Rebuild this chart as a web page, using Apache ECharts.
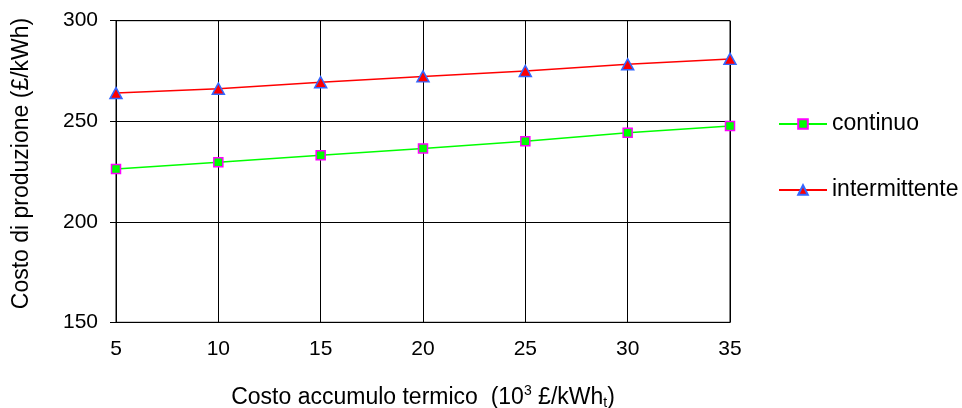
<!DOCTYPE html>
<html>
<head>
<meta charset="utf-8">
<script src="https://cdn.jsdelivr.net/npm/echarts@6/dist/echarts.min.js"></script>
<style>
  html, body { margin: 0; padding: 0; background: #fff; }
  #chart { width: 962px; height: 408px; }
</style>
</head>
<body>
<div id="chart"></div>
<script>
// Costo accumulo termico (10^3 £/kWh_t)
const storageCost = [5, 10, 15, 20, 25, 30, 35];
// Costo di produzione (£/kWh)
const continuo = [226.3, 229.6, 233.1, 236.5, 240.0, 244.3, 247.6];
const intermittente = [264.0, 266.2, 269.4, 272.3, 275.0, 278.3, 281.0];
const seriesNames = ['continuo', 'intermittente'];

const FONT = '"Liberation Sans", Arial, sans-serif';

function pairs(xs, ys) {
  return xs.map((x, i) => [x, ys[i]]);
}

const chart = echarts.init(document.getElementById('chart'), null, { renderer: 'canvas' });

chart.setOption({
  animation: false,
  backgroundColor: '#ffffff',
  textStyle: { fontFamily: FONT, color: '#000' },
  grid: {
    left: 116, right: 232, top: 20.7, bottom: 85.7,
    containLabel: false,
    outerBoundsMode: 'none',
    show: true, borderColor: '#000', borderWidth: 1
  },
  legend: {
    orient: 'vertical',
    left: 778,
    top: 112.5,
    padding: 0,
    itemWidth: 48,
    itemHeight: 12,
    itemGap: 43,
    data: seriesNames,
    textStyle: { fontFamily: FONT, fontSize: 23, color: '#000', padding: [0, 0, 0, 0] }
  },
  xAxis: {
    type: 'value',
    min: 5, max: 35, interval: 5,
    axisLine: { show: true, lineStyle: { color: '#000', width: 1 } },
    axisTick: { show: false },
    splitLine: { show: true, lineStyle: { color: '#000', width: 1 } },
    axisLabel: { fontFamily: FONT, fontSize: 21, color: '#000', margin: 16 },
    name: '{a|Costo accumulo termico  (10}{sup|3}{a| £/kWh}{sub|t}{a|)}',
    nameLocation: 'middle',
    nameGap: 62,
    nameTextStyle: {
      rich: {
        a: { fontFamily: FONT, fontSize: 23, color: '#000', lineHeight: 26 },
        sup: { fontFamily: FONT, fontSize: 14, color: '#000', lineHeight: 15, verticalAlign: 'top' },
        sub: { fontFamily: FONT, fontSize: 14, color: '#000', lineHeight: 15, verticalAlign: 'bottom' }
      }
    }
  },
  yAxis: {
    type: 'value',
    min: 150, max: 300, interval: 50,
    axisLine: { show: true, lineStyle: { color: '#000', width: 1 } },
    axisTick: { show: true, inside: false, length: 6, lineStyle: { color: '#000' } },
    splitLine: { show: true, lineStyle: { color: '#000', width: 1 } },
    axisLabel: { fontFamily: FONT, fontSize: 21, color: '#000', margin: 18 },
    name: 'Costo di produzione (£/kWh)',
    nameLocation: 'middle',
    nameRotate: 90,
    nameGap: 83,
    nameTextStyle: { fontFamily: FONT, fontSize: 23, color: '#000', padding: [0, 0, 0, 16] }
  },
  series: [
    {
      name: seriesNames[0],
      type: 'line',
      data: pairs(storageCost, continuo),
      symbol: 'rect',
      symbolSize: 9,
      lineStyle: { color: '#00ff00', width: 1.5 },
      itemStyle: { color: '#00ff00', borderColor: '#ff00ff', borderWidth: 1.5 }
    },
    {
      name: seriesNames[1],
      type: 'line',
      data: pairs(storageCost, intermittente),
      symbol: 'triangle',
      symbolSize: [12, 11],
      lineStyle: { color: '#ff0000', width: 1.5 },
      itemStyle: { color: '#ff0000', borderColor: '#3366ff', borderWidth: 1.5 }
    }
  ]
});
</script>
</body>
</html>
